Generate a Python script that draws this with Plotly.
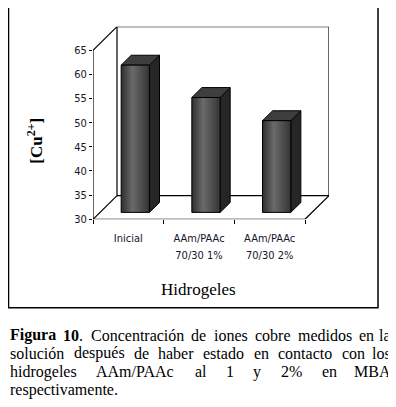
import plotly.graph_objects as go

# ---------------- data ----------------
categories = ["Inicial", "AAm/PAAc 70/30 1%", "AAm/PAAc 70/30 2%"]
label_line1 = ["Inicial", "AAm/PAAc", "AAm/PAAc"]
label_line2 = ["", "70/30 1%", "70/30 2%"]
cu_values = [60.5, 53.8, 49.0]
y_tick_values = [30, 35, 40, 45, 50, 55, 60, 65]

# ---------------- geometry (layout only) ----------------
OFF = 8                          # page body margin of the browser
FW, FH = 396 - OFF, 407 - OFF    # figure size
X0_PX, X1_PX = 93, 329           # (page px) front axis / back wall right
Y0_PX, YT_PX = 223, 27           # (page px) value 30 on front axis / back wall top
CAT_PX = 70.67
VAL_PX = 4.914
DEPTH_PX = 24
DX = DEPTH_PX / CAT_PX
DY = DEPTH_PX / VAL_PX
YMIN, YMAX = y_tick_values[0], y_tick_values[-1]
XMIN, XMAX = -0.5, len(categories) - 0.5
x_range = [XMIN, XMIN + (X1_PX - X0_PX) / CAT_PX]
y_range = [YMIN, YMIN + (Y0_PX - YT_PX) / VAL_PX]
F1, F2 = 0.29, 0.71
BW = 0.40


def fx(p):
    return (p - OFF) / FW


def fy(p):
    return 1 - (p - OFF) / FH


fig = go.Figure()


def add_line(xs, ys, w=1.2):
    fig.add_trace(go.Scatter(x=xs, y=ys, mode="lines",
                             line=dict(color="black", width=w),
                             hoverinfo="skip", showlegend=False))


# back wall
fig.add_trace(go.Scatter(
    x=[XMIN + DX, XMAX + DX, XMAX + DX, XMIN + DX, XMIN + DX],
    y=[YMIN + DY, YMIN + DY, YMAX + DY, YMAX + DY, YMIN + DY],
    mode="lines", fill="toself", fillcolor="white",
    line=dict(color="black", width=1.2), hoverinfo="skip", showlegend=False))
add_line([XMIN, XMIN + DX], [YMAX, YMAX + DY])
add_line([XMIN, XMIN + DX], [YMIN, YMIN + DY])
add_line([XMAX, XMAX + DX], [YMIN, YMIN + DY])
add_line([XMIN, XMIN], [YMIN, YMAX])
add_line([XMIN, XMAX], [YMIN, YMIN])

# 3D bars
for i, v in enumerate(cu_values):
    xl, xr = i - BW / 2, i + BW / 2
    fx1, fy1 = F1 * DX, F1 * DY
    fx2, fy2 = F2 * DX, F2 * DY
    fig.add_trace(go.Scatter(
        x=[xr + fx1, xr + fx2, xr + fx2, xr + fx1, xr + fx1],
        y=[YMIN + fy1, YMIN + fy2, v + fy2, v + fy1, YMIN + fy1],
        mode="lines", fill="toself", fillcolor="#262626",
        line=dict(color="black", width=1), hoverinfo="skip", showlegend=False))
    fig.add_trace(go.Scatter(
        x=[xl + fx1, xr + fx1, xr + fx2, xl + fx2, xl + fx1],
        y=[v + fy1, v + fy1, v + fy2, v + fy2, v + fy1],
        mode="lines", fill="toself", fillcolor="#3e3e3e",
        line=dict(color="black", width=1), hoverinfo="skip", showlegend=False))
    fig.add_trace(go.Scatter(
        x=[xl + fx1, xr + fx1, xr + fx1, xl + fx1, xl + fx1],
        y=[YMIN + fy1, YMIN + fy1, v + fy1, v + fy1, YMIN + fy1],
        mode="lines", fill="toself",
        fillgradient=dict(type="horizontal",
                          colorscale=[[0, "#2e2e2e"], [0.4, "#6a6a6a"], [1, "#343434"]]),
        line=dict(color="black", width=1),
        name=categories[i], showlegend=False))

# invisible carrier for second label row axis
fig.add_trace(go.Scatter(x=list(range(len(categories))), y=cu_values, xaxis="x2",
                         mode="markers", marker=dict(opacity=0), hoverinfo="skip",
                         showlegend=False))

tick_font = dict(family="DejaVu Sans Condensed, Liberation Sans Narrow, Liberation Sans, Arial",
                 size=11, color="#15152a")

x_dom = [fx(X0_PX), fx(X1_PX)]
fig.update_layout(
    width=FW, height=FH,
    margin=dict(l=0, r=0, t=0, b=0),
    paper_bgcolor="white", plot_bgcolor="white",
    showlegend=False,
    xaxis=dict(domain=x_dom, range=x_range,
               tickmode="array", tickvals=list(range(len(categories))), ticktext=label_line1,
               ticks="", showgrid=False, zeroline=False, showline=False,
               tickfont=tick_font, ticklabelstandoff=11,
               minor=dict(ticks="outside", tick0=XMIN, dtick=1, ticklen=4,
                          tickcolor="black", tickwidth=1, showgrid=False)),
    xaxis2=dict(domain=x_dom, range=x_range, overlaying="x", anchor="y", side="bottom",
                tickmode="array", tickvals=[1, 2], ticktext=label_line2[1:],
                ticks="", showgrid=False, zeroline=False, showline=False,
                tickfont=tick_font, ticklabelstandoff=28),
    yaxis=dict(domain=[fy(Y0_PX), fy(YT_PX)], range=y_range,
               tickmode="array", tickvals=y_tick_values,
               ticks="outside", ticklen=3, tickcolor="black", tickwidth=1,
               showgrid=False, zeroline=False, showline=False,
               tickfont=tick_font),
)

serif = "Liberation Serif, Times New Roman, serif"

fig.add_annotation(text="<b>[Cu<sup>2+</sup>]</b>", xref="paper", yref="paper",
                   x=fx(35), y=fy(143), textangle=-90, showarrow=False,
                   font=dict(family=serif, size=17, color="black"),
                   xanchor="center", yanchor="middle")
fig.add_annotation(text="Hidrogeles", xref="paper", yref="paper",
                   x=fx(198), y=fy(295), showarrow=False,
                   font=dict(family=serif, size=17, color="black"),
                   xanchor="center", yanchor="middle")

fig.add_shape(type="rect", xref="paper", yref="paper",
              x0=fx(8.5), x1=fx(378), y0=fy(313), y1=fy(5.5),
              line=dict(color="black", width=1.5))

# ---------------- caption, justified using Times metrics ----------------
TIMES = {"a": 444, "b": 500, "c": 444, "d": 500, "e": 444, "f": 333, "g": 500, "h": 500,
         "i": 278, "j": 278, "k": 500, "l": 278, "m": 778, "n": 500, "o": 500, "p": 500,
         "q": 500, "r": 333, "s": 389, "t": 278, "u": 500, "v": 500, "w": 722, "x": 500,
         "y": 500, "z": 444, "A": 722, "B": 667, "C": 667, "M": 889, "P": 556, "F": 556,
         ".": 250, "/": 278, "%": 833, "ó": 500, "é": 444, " ": 250}
TIMES_B = {"F": 611, "i": 278, "g": 500, "u": 556, "r": 444, "a": 500, " ": 250}
CAP_SIZE = 16
cap_font = dict(family=serif, size=CAP_SIZE, color="black")


def word_width(parts):
    total = 0
    for txt, bold in parts:
        table = TIMES_B if bold else TIMES
        total += sum(table.get(ch, 500) for ch in txt)
    return total / 1000 * CAP_SIZE


def add_word(html, xpx, ypx, anchor):
    fig.add_annotation(text=html, xref="paper", yref="paper", x=fx(xpx), y=fy(ypx),
                       xanchor=anchor, yanchor="middle", showarrow=False, font=cap_font,
                       borderpad=0)


def place_line(words, ypx, x_left=9, x_right=392):
    widths = [word_width(w) for w in words]
    gap = (x_right - x_left - sum(widths)) / (len(words) - 1)
    x = x_left
    for k, (parts, wdt) in enumerate(zip(words, widths)):
        html = "".join(f"<b>{t}</b>" if b else t for t, b in parts)
        if k == len(words) - 1:
            add_word(html, x_right, ypx, "right")
        else:
            add_word(html, x, ypx, "left")
        x += wdt + gap


def plain(s):
    return [[(w, False)] for w in s.split()]


line1 = [[("Figura", True)], [("10", True), (".", False)]] + plain(
    "Concentración de iones cobre medidos en la")
line2 = plain("solución después de haber estado en contacto con los")
line3 = plain("hidrogeles AAm/PAAc al 1 y 2% en MBA")
place_line(line1, 341)
place_line(line2, 359.5)
place_line(line3, 378)
add_word("respectivamente.", 9, 396.5, "left")

fig.write_html("out.html")
